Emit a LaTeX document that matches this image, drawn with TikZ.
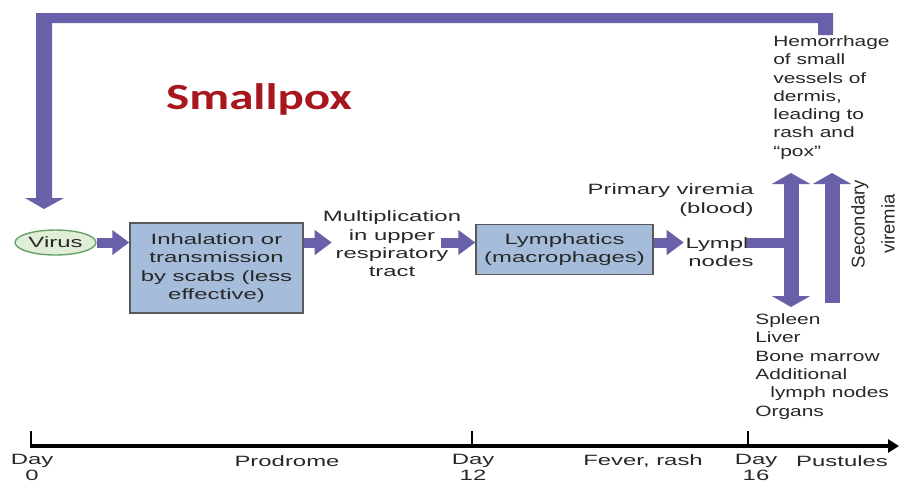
\documentclass[tikz,border=0pt]{standalone}
\usepackage{fontspec}
\setmainfont{Liberation Sans}
\newfontfamily\labelfont[FakeStretch=1.6]{Liberation Sans}
\newfontfamily\sidefont[FakeStretch=1.4]{Liberation Sans}
\newfontfamily\titlefont[FakeStretch=1.33]{Carlito}
\usetikzlibrary{arrows.meta,shapes.geometric}

\definecolor{arrowpurple}{RGB}{104,96,168}
\definecolor{boxblue}{RGB}{165,188,218}
\definecolor{virusgreen}{RGB}{224,238,216}
\definecolor{titlered}{RGB}{168,22,30}
\definecolor{textgray}{RGB}{40,40,40}

\tikzset{
  lbl/.style={font=\labelfont\fontsize{8.5}{10.4}\selectfont, text=textgray,
    inner sep=0pt, align=center},
  side/.style={font=\sidefont\fontsize{8.5}{10.4}\selectfont, text=textgray,
    inner sep=0pt, align=left},
  stagebox/.style={lbl, draw=black!65, line width=0.85pt, fill=boxblue},
  blockarrow/.style={draw=arrowpurple, line width=0.2cm,
    -{Triangle[length=0.34cm,width=0.48cm]}},
  upright/.style={draw=arrowpurple, line width=0.3cm},
  uphead/.tip={Triangle[length=0.22cm,width=0.76cm]}
}

\begin{document}
\begin{tikzpicture}[x=0.02cm,y=-0.02cm]
  \useasboundingbox (0,0) rectangle (901,484);

  \node[font=\titlefont\bfseries\fontsize{21}{24}\selectfont, text=titlered,
    anchor=base, inner sep=0pt] (title) at (259,109) {Smallpox};

  % main chain
  \node[ellipse, draw=black!60!green!60, line width=0.8pt, fill=virusgreen,
    minimum width=1.62cm, minimum height=0.5cm, lbl] (virus) at (55.5,242.5) {Virus};
  \node[stagebox, minimum width=3.46cm, minimum height=1.8cm] (inhal) at (216.5,268)
    {Inhalation or\\transmission\\by scabs (less\\effective)};
  \node[lbl] (multi) at (392,244)
    {Multiplication\\in upper\\respiratory\\tract};
  \node[stagebox, minimum width=3.54cm, minimum height=1.0cm] (lymphatics) at (564.5,249.5)
    {Lymphatics\\(macrophages)};
  \node[lbl] (lymph) at (721,252) {Lymph\\nodes};

  \draw[blockarrow] (virus.east) -- (virus.east -| inhal.west);
  \draw[blockarrow] (virus.east -| inhal.east) -- ++(28,0);
  \draw[blockarrow] (441,242.5) -- (virus.east -| lymphatics.west);
  \draw[blockarrow] (virus.east -| lymphatics.east) -- ++(30,0);

  % viremia
  \coordinate (pvtop) at (791,173);
  \coordinate (pvbot) at (791,307);
  \coordinate (svtop) at (832,173);
  \coordinate (svbot) at (832,303);
  \draw[arrowpurple, line width=0.2cm] (747,242.5) -- (pvtop |- virus.east);
  \draw[upright, uphead-uphead] (pvbot) -- (pvtop);
  \draw[upright, -uphead] (svbot) -- (svtop);

  \node[lbl, align=right, anchor=east] (primary) at (754,200)
    {Primary viremia\\(blood)};
  \node[font=\fontsize{10.5}{17}\selectfont, text=textgray, inner sep=0pt,
    align=center, rotate=90] (secondary) at (873,224) {Secondary\\viremia};
  \node[side, anchor=west] (hemo) at (773,97.5)
    {Hemorrhage\\of small\\vessels of\\dermis,\\leading to\\rash and\\“pox”};
  \node[side, anchor=west] (organs) at (755,366.5)
    {Spleen\\Liver\\Bone marrow\\Additional\\\hspace*{0.3cm}lymph nodes\\Organs};

  % back to the start
  \fill[arrowpurple] (36,13) -- (833,13) -- (833,35) -- (818,35) -- (818,23)
    -- (52,23) -- (52,198) -- (64,198) -- (44,209) -- (25,198) -- (36,198) -- cycle;

  % time line
  \draw[line width=0.07cm, -{Triangle[length=0.22cm,width=0.26cm]}] (30,446) -- (899,446);
  \foreach \x/\lx/\d in {31/32/0, 472/473/12, 748/756/16} {
    \draw[line width=0.6pt] (\x,446) -- (\x,431);
    \node[lbl, anchor=north] (day\d) at (\lx,454) {Day\\[-1.5pt]\d};
  }
  \node[lbl] (prodrome) at (287,461) {Prodrome};
  \node[lbl] (fever) at (643,461) {Fever, rash};
  \node[lbl] (pustules) at (842,461) {Pustules};
\end{tikzpicture}
\end{document}
